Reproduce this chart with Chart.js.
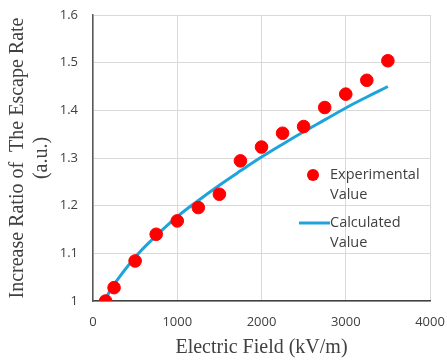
<!DOCTYPE html>
<html>
<head>
<meta charset="utf-8">
<script src="https://cdn.jsdelivr.net/npm/chart.js@4"></script>
<style>
  html, body { margin: 0; padding: 0; background: #fff; }
  #wrap { position: relative; width: 447px; height: 360px; }
</style>
</head>
<body>
<div id="wrap"><canvas id="chart" width="447" height="360"></canvas></div>
<script>
//Data
const expField = [150, 250, 500, 750, 1000, 1250, 1500, 1750, 2000, 2250, 2500, 2750, 3000, 3250, 3500];
const expRatio = [1.0, 1.028, 1.084, 1.14, 1.168, 1.196, 1.224, 1.294, 1.323, 1.352, 1.366, 1.406, 1.434, 1.463, 1.504];

const calcField = [150, 250, 500, 750, 1000, 1250, 1500, 1750, 2000, 2250, 2500, 2750, 3000, 3250, 3500];
const calcRatio = [1.005, 1.035, 1.092, 1.137, 1.177, 1.211, 1.243, 1.273, 1.302, 1.329, 1.355, 1.38, 1.405, 1.428, 1.45];

const xTicks = ['0', '1000', '2000', '3000', '4000'];
const yTicks = ['1', '1.1', '1.2', '1.3', '1.4', '1.5', '1.6'];

const seriesNames = [['Experimental', 'Value'], ['Calculated', 'Value']];

const red = '#ff0000';
const blue = '#1ea4da';

//Legend drawn inside the plot
const insideLegend = {
  id: 'insideLegend',
  afterDraw(chart) {
    const ctx = chart.ctx;
    ctx.save();
    ctx.font = '14.5px "Open Sans"';
    ctx.textBaseline = 'middle';
    // experimental
    ctx.beginPath();
    ctx.arc(313, 175, 6, 0, Math.PI * 2);
    ctx.fillStyle = red;
    ctx.fill();
    ctx.fillStyle = '#404040';
    ctx.fillText(seriesNames[0][0], 330, 175);
    ctx.fillText(seriesNames[0][1], 330, 195);
    // calculated
    ctx.strokeStyle = blue;
    ctx.lineWidth = 3;
    ctx.beginPath();
    ctx.moveTo(299, 223);
    ctx.lineTo(330, 223);
    ctx.stroke();
    ctx.fillText(seriesNames[1][0], 330, 223);
    ctx.fillText(seriesNames[1][1], 330, 243);
    ctx.restore();
  }
};

const chart = new Chart(document.getElementById('chart'), {
  type: 'scatter',
  data: {
    datasets: [{
      label: seriesNames[0].join(' '),
      data: expField.map((x, i) => ({ x: x, y: expRatio[i] })),
      backgroundColor: red,
      borderColor: red,
      pointRadius: 6.3,
      pointHoverRadius: 6.3,
      order: 0
    }, {
      type: 'line',
      label: seriesNames[1].join(' '),
      data: calcField.map((x, i) => ({ x: x, y: calcRatio[i] })),
      borderColor: blue,
      borderWidth: 3,
      pointRadius: 0,
      tension: 0.4,
      fill: false,
      order: 1
    }]
  },
  options: {
    responsive: false,
    animation: false,
    layout: { padding: { top: 15, right: 17, bottom: 0, left: 0 } },
    plugins: {
      legend: { display: false },
      tooltip: { enabled: false }
    },
    scales: {
      x: {
        type: 'linear',
        min: 0,
        max: 4000,
        ticks: {
          stepSize: 1000,
          padding: 13,
          color: '#404040',
          font: { family: 'Open Sans', size: 13 },
          callback: (v, i) => xTicks[i]
        },
        grid: { color: '#d9d9d9', drawTicks: false },
        border: { color: '#404040', width: 1.5 },
        title: {
          display: true,
          text: 'Electric Field (kV/m)',
          color: '#404040',
          font: { family: 'Liberation Serif', size: 20 },
          padding: { top: 4, bottom: 0 }
        },
        afterFit: s => { s.height = 59; s.paddingLeft = 0; s.paddingRight = 0; }
      },
      y: {
        min: 1,
        max: 1.6,
        ticks: {
          stepSize: 0.1,
          padding: 15,
          color: '#404040',
          font: { family: 'Open Sans', size: 13 },
          callback: (v, i) => yTicks[i]
        },
        grid: { color: '#d9d9d9', drawTicks: false },
        border: { color: '#595959', width: 1.5 },
        title: {
          display: true,
          text: ['Increase Ratio of  The Escape Rate', '(a.u.)'],
          color: '#404040',
          font: { family: 'Liberation Serif', size: 20, lineHeight: 1.2 },
          padding: { top: 6, bottom: 0 }
        },
        afterFit: s => { s.width = 93; s.paddingTop = 0; s.paddingBottom = 0; }
      }
    }
  },
  plugins: [insideLegend]
});
</script>
</body>
</html>
